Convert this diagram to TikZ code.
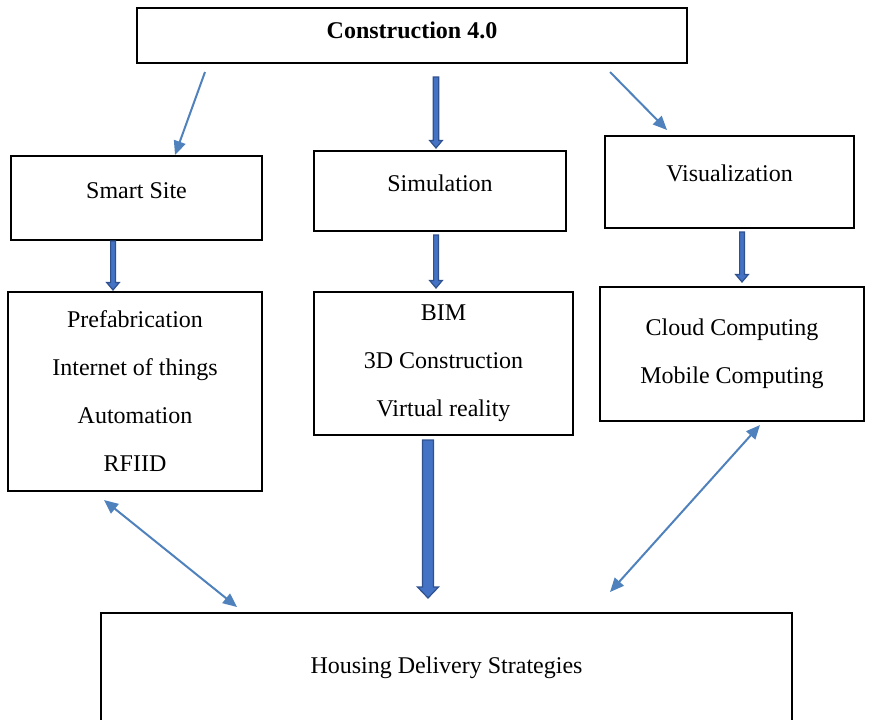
\documentclass[tikz,border=0pt]{standalone}
\usepackage{fontspec}
\setmainfont{Liberation Serif}
\usetikzlibrary{arrows.meta,calc}
\definecolor{linkblue}{HTML}{4F81BD}
\definecolor{fillblue}{HTML}{4472C4}
\definecolor{edgeblue}{HTML}{2F528F}

% vertical block arrow: from, to, half shaft, half head, head length
\newcommand{\blockarrow}[5]{%
  \draw[blockedge] let \p1=(#1), \p2=(#2) in
    (\x1-#3,\y1) -- (\x1-#3,\y2+#5) -- (\x1-#4,\y2+#5) -- (\x1,\y2)
    -- (\x1+#4,\y2+#5) -- (\x1+#3,\y2+#5) -- (\x1+#3,\y1) -- cycle;}

\begin{document}
\begin{tikzpicture}[x=0.5pt, y=-0.5pt,
    box/.style={draw, line width=1pt, inner sep=0pt, outer sep=0pt,
      align=center, font=\fontsize{12}{24}\selectfont},
    lift/.style={text depth=#1},
    link/.style={linkblue, line width=1pt,
      {Triangle[length=7pt,width=6pt]}-{Triangle[length=7pt,width=6pt]}},
    onelink/.style={linkblue, line width=1pt, -{Triangle[length=7pt,width=6pt]}},
    blockedge/.style={draw=edgeblue, fill=fillblue, line width=0.6pt, line join=miter}]
  \useasboundingbox (0,0) rectangle (870,719);
  \clip (0,0) rectangle (870,719);

  % top
  \node[box, lift=5pt, minimum width=275pt, minimum height=27.5pt] (top) at (412,35.5)
    {\bfseries Construction 4.0};

  % middle row
  \node[box, lift=7pt, minimum width=125.5pt, minimum height=42pt] (smart) at (136.5,198) {Smart Site};
  \node[box, lift=8pt, minimum width=126pt, minimum height=40pt] (sim) at (440,191) {Simulation};
  \node[box, lift=9pt, minimum width=124.5pt, minimum height=46pt] (vis) at (729.5,182) {Visualization};

  % lower row
  \node[box, minimum width=127pt, minimum height=99.5pt] (prefab) at (135,391.5)
    {Prefabrication\\Internet of things\\Automation\\RFIID};
  \node[box, minimum width=129.5pt, minimum height=71.5pt] (bim) at (443.5,363.5)
    {BIM\\3D Construction\\Virtual reality};
  \node[box, minimum width=132pt, minimum height=67pt] (cloud) at (732,354)
    {Cloud Computing\\Mobile Computing};

  % bottom
  \node[box, minimum width=345.5pt, minimum height=54.5pt] (housing) at (446.5,667.5)
    {Housing Delivery Strategies};

  % thin arrows from the top
  \draw[onelink] ([shift={(68,9)}]top.south west) -- ([shift={(164,-1)}]smart.north west);
  \draw[onelink] ([shift={(-77,9)}]top.south east) -- ([shift={(62,-6)}]vis.north west);

  % block arrows
  \blockarrow{[shift={(24,14)}]top.south}{[shift={(0,-3)}]sim.north}{1.4pt}{3.2pt}{3.8pt}
  \blockarrow{[shift={(-23.5,1)}]smart.south}{[shift={(0,-2)}]prefab.north}{1.2pt}{3.2pt}{3.8pt}
  \blockarrow{[shift={(-4,4)}]sim.south}{[shift={(0,-4)}]bim.north}{1.2pt}{3.2pt}{3.8pt}
  \blockarrow{[shift={(12.5,4)}]vis.south}{[shift={(0,-5)}]cloud.north}{1.2pt}{3.2pt}{3.8pt}
  \blockarrow{[shift={(-15.5,5)}]bim.south}{[shift={(0,-15)}]housing.north}{2.75pt}{5.25pt}{5.5pt}

  % two-way links to the bottom box
  \draw[link] ([shift={(96,9)}]prefab.south west) -- ([shift={(136,-6)}]housing.north west);
  \draw[link] ([shift={(160,4)}]cloud.south west) -- ([shift={(-182,-21)}]housing.north east);
\end{tikzpicture}
\end{document}
